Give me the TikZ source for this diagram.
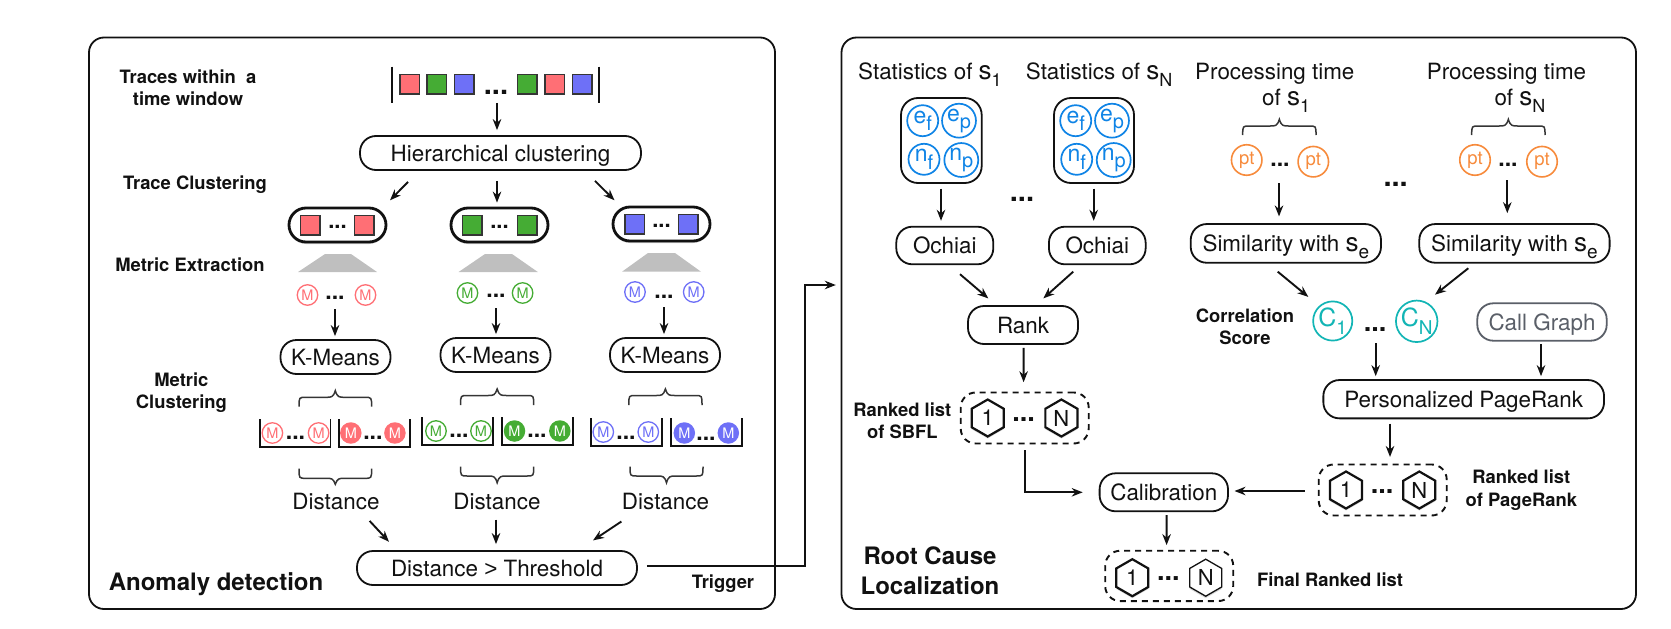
\documentclass[tikz,border=0pt]{standalone}
\usepackage{fontspec}
\setmainfont{TeX Gyre Heros}
\newfontfamily\gtfont{Liberation Sans}
\usetikzlibrary{arrows.meta,shapes.geometric,shadows}
\definecolor{cred}{HTML}{FF6F75}
\definecolor{cgreen}{HTML}{45AC34}
\definecolor{cblue}{HTML}{6E70F7}
\definecolor{corange}{HTML}{F78B3C}
\definecolor{cstat}{HTML}{0F84E6}
\definecolor{ccyan}{HTML}{12B5B5}
\definecolor{cgraph}{HTML}{5A5F68}
\definecolor{ink}{HTML}{111111}
\newcommand\fsz[1]{\fontsize{#1}{#1}\selectfont}
\newcommand\subt[2]{\raisebox{-.32em}{\fsz{#1}#2}}
\newcommand\conn[6]{\draw[arr] ([xshift=#2pt,yshift=#3pt]#1) -- ([xshift=#5pt,yshift=#6pt]#4);}
\newcommand\brc[5]{\pgfmathsetmacro\xm{(#1+#2)/2}\draw[brcline] (#1,#3) .. controls (#1,#4) and (#1,#4) .. ({#1+7},#4) -- ({\xm-9},#4) .. controls ({\xm-4},#4) and ({\xm-2},#4) .. (\xm,#5) .. controls ({\xm+2},#4) and ({\xm+4},#4) .. ({\xm+9},#4) -- ({#2-7},#4) .. controls (#2,#4) and (#2,#4) .. (#2,#3);}
\newcommand\bin[3]{\draw[binline] (#1,#3-28) -- (#1,#3) -- (#2,#3) -- (#2,#3-28);}
\tikzset{
  panel/.style={draw=ink,line width=1.8pt,rounded corners=15pt,inner sep=0pt},
  pill/.style={draw=ink,line width=1.8pt,fill=white,rounded corners=16pt,inner sep=0pt,font=\fsz{22.4},text=ink,text height=16pt,text depth=0pt},
  clus/.style={draw=ink,line width=2.8pt,fill=white,rounded corners=17pt,inner sep=0pt,minimum width=97pt,minimum height=34pt,
     drop shadow={shadow xshift=0pt,shadow yshift=-2pt,opacity=.2,fill=black}},
  sq/.style={draw=ink!85,line width=1.5pt,fill=#1,minimum size=19.5pt,inner sep=0pt},
  mo/.style={circle,draw=#1,line width=1.3pt,fill=white,text=#1,minimum size=20.5pt,inner sep=0pt,font=\fsz{14.5}},
  mf/.style={circle,fill=#1,text=white,minimum size=21.5pt,inner sep=0pt,font=\fsz{14.5}},
  dotsn/.style={anchor=south,inner sep=0pt,font=\bfseries\fsz{#1},text=ink},
  lab/.style={inner sep=0pt,minimum height=20pt,font=\fsz{22.4},text=ink},
  txt/.style={anchor=base west,inner sep=0pt,font=\fsz{22.4},text=ink},
  bold/.style={inner sep=0pt,font=\bfseries\fsz{18.4},text=ink,align=center},
  big/.style={inner sep=0pt,font=\bfseries\fsz{24},text=ink,align=center},
  arr/.style={draw=ink,line width=1.9pt,-{Stealth[length=11pt,width=8.5pt]}},
  brcline/.style={draw=ink!85,line width=1.5pt},
  binline/.style={draw=ink,line width=1.8pt},
  stat/.style={circle,draw=cstat,line width=1.7pt,fill=white,text=cstat,minimum size=31pt,inner sep=0pt,font=\fsz{23}},
  ptc/.style={circle,draw=corange,line width=1.6pt,fill=white,text=corange,minimum size=30.5pt,inner sep=0pt,font=\fsz{18.5}},
  cc/.style={circle,draw=ccyan,line width=1.7pt,fill=white,text=ccyan,minimum size=37.5pt,inner sep=0pt,font=\fsz{25}},
  dash box/.style={draw=ink,line width=1.9pt,dash pattern=on 6pt off 5pt,rounded corners=15pt,inner sep=0pt,minimum width=128pt,minimum height=51pt},
  hex/.style={regular polygon,regular polygon sides=6,shape border rotate=30,draw=ink,line width=#1,fill=white,minimum size=37pt,inner sep=0pt,font=\fsz{22},text=ink,
     drop shadow={shadow xshift=0pt,shadow yshift=-2pt,opacity=.15,fill=black}},
  trap/.style={fill=black!25,draw=none},
}
\begin{document}
\begin{tikzpicture}[x=1pt,y=-1pt]
\useasboundingbox (0,0) rectangle (1671,629);
% panels
\node[panel,minimum width=686pt,minimum height=571.5pt] (ad) at (432,323.25) {};
\node[panel,minimum width=794.5pt,minimum height=571.5pt] (rc) at (1238.75,323.25) {};
\node[big,anchor=center] (adtitle) at (216,584) {Anomaly detection};
\node[big,anchor=center] (rctitle) at (930,571) {Root Cause\\[6pt]Localization};
% left labels
\node[bold] (l1) at (188,87.5) {Traces within\ \ a\\[3.6pt]time window};
\node[bold] (l2) at (195,185) {Trace Clustering};
\node[bold] (l3) at (190,265) {Metric Extraction};
\node[bold] (l4) at (181.4,393) {Metric\\[3.6pt]Clustering};
\node[bold] (l5) at (723,584) {Trigger};
% trace window
\node[inner sep=0pt,minimum width=207pt,minimum height=36pt] (tw) at (495.5,84.7) {};
\draw[line width=1.8pt,draw=ink] (tw.north west) -- (tw.south west) (tw.north east) -- (tw.south east);
\node[sq=cred] (t1) at (409.6,84.3) {};
\node[sq=cgreen] (t2) at (436.5,84.3) {};
\node[sq=cblue] (t3) at (464,84.3) {};
\node[dotsn=29] (t4) at (496,95) {...};
\node[sq=cgreen] (t5) at (527,84.3) {};
\node[sq=cred] (t6) at (554.5,84.3) {};
\node[sq=cblue] (t7) at (582,84.3) {};
\node[pill,minimum width=281pt,minimum height=34pt] (hier) at (500.5,153) {Hierarchical clustering};
\conn{tw.south}{1.5}{0}{hier.north}{-3.5}{5}
% clusters
\node[clus] (cr) at (337.5,225) {};
\node[clus] (cg) at (499.5,225) {};
\node[clus] (cb) at (661.5,224) {};
\node[sq=cred] (cr1) at (310,225) {};
\node[sq=cred] (cr2) at (364,225) {};
\node[dotsn=22] (cr3) at (337.5,229) {...};
\node[sq=cgreen] (cg1) at (472,225) {};
\node[sq=cgreen] (cg2) at (527,225) {};
\node[dotsn=22] (cg3) at (499.5,229) {...};
\node[sq=cblue] (cb1) at (634.5,224) {};
\node[sq=cblue] (cb2) at (688,224) {};
\node[dotsn=22] (cb3) at (661.5,228) {...};
\conn{hier.south}{-92.5}{-11}{cr.north}{52.5}{6.3}
\conn{hier.south}{-3.5}{-10}{cg.north}{-2.5}{4}
\conn{hier.south}{94.5}{-10}{cb.north}{-47}{5.3}
% trapezoids
\fill[trap] (298,272) -- (325,254) -- (351,254) -- (377,272) -- cycle;
\fill[trap] (458.6,272) -- (485,254) -- (512,254) -- (537.8,272) -- cycle;
\fill[trap] (622,271.7) -- (648,253) -- (675,253) -- (701,271.7) -- cycle;
% M rows
\node[mo=cred] (mr1) at (307.5,295) {M};
\node[mo=cred] (mr2) at (365.5,295) {M};
\node[dotsn=23] (mrd) at (335,300) {...};
\node[mo=cgreen] (mg1) at (467.5,293) {M};
\node[mo=cgreen] (mg2) at (522.6,293) {M};
\node[dotsn=23] (mgd) at (496,298) {...};
\node[mo=cblue] (mb1) at (635,292) {M};
\node[mo=cblue] (mb2) at (693.7,292) {M};
\node[dotsn=23] (mbd) at (664,299) {...};
% K-means
\node[pill,minimum width=110pt,minimum height=34pt] (kr) at (335.5,357) {K-Means};
\node[pill,minimum width=110pt,minimum height=34pt] (kg) at (495.5,355) {K-Means};
\node[pill,minimum width=110pt,minimum height=34pt] (kb) at (665,355) {K-Means};
\conn{mrd.south}{0}{-9}{kr.north}{-.5}{3}
\conn{mgd.south}{0}{-10}{kg.north}{.5}{3}
\conn{mbd.south}{0}{-8}{kb.north}{-1}{3}
% top braces
\brc{299}{371.6}{406.7}{397.3}{390.7}
\brc{460.6}{533.7}{405}{395.5}{389}
\brc{628.8}{702}{405}{395.5}{389}
% bins
\bin{259.8}{330.4}{447}
\bin{338.6}{409.6}{447}
\bin{422}{493}{445}
\bin{502}{573}{445}
\bin{590.7}{661.7}{446}
\bin{670.7}{742}{446}
\node[mo=cred] (br1) at (272.4,433) {M};
\node[mo=cred] (br2) at (318.6,433) {M};
\node[dotsn=23] (br3) at (295.5,440) {...};
\node[mf=cred] (br4) at (350.8,433) {M};
\node[mf=cred] (br5) at (394.9,433) {M};
\node[dotsn=23] (br6) at (372.9,440) {...};
\node[mo=cgreen] (bg1) at (436,431) {M};
\node[mo=cgreen] (bg2) at (481,431) {M};
\node[dotsn=23] (bg3) at (459,438) {...};
\node[mf=cgreen] (bg4) at (514.5,431) {M};
\node[mf=cgreen] (bg5) at (559.8,431) {M};
\node[dotsn=23] (bg6) at (537,438) {...};
\node[mo=cblue] (bb1) at (603.3,432) {M};
\node[mo=cblue] (bb2) at (648.3,432) {M};
\node[dotsn=23] (bb3) at (626,440) {...};
\node[mf=cblue] (bb4) at (684.3,433) {M};
\node[mf=cblue] (bb5) at (728.3,433) {M};
\node[dotsn=23] (bb6) at (706,441) {...};
% bottom braces
\brc{299}{371.6}{468.7}{478.3}{484.3}
\brc{460.6}{533.7}{466.7}{476}{482.7}
\brc{630}{703}{466.7}{476}{482.7}
% distance
\node[lab] (dr) at (336,501) {Distance};
\node[lab] (dg) at (497,501.7) {Distance};
\node[lab] (db) at (665.5,501.7) {Distance};
\node[pill,minimum width=280pt,minimum height=34pt] (th) at (497,568) {Distance {\gtfont >} Threshold};
\conn{dr.south}{33.6}{-9.7}{th.north}{-108}{8.3}
\conn{dg.south}{-1}{-7.6}{th.north}{-1}{6}
\conn{db.south}{-44.1}{-9.6}{th.north}{96}{9.7}
% trigger
\draw[arr] ([xshift=9pt,yshift=2.3pt]th.east) -| ([xshift=-35.8pt,yshift=38.25pt]rc.west) -- ([xshift=-4.8pt,yshift=38.25pt]rc.west);
% statistics
\node[txt] (s1) at (858,79) {Statistics of {\fsz{26}s}\subt{18}{1}};
\node[txt] (s2) at (1025.7,79) {Statistics of {\fsz{26}s}\subt{18}{N}};
\node[draw=ink,line width=1.8pt,rounded corners=17pt,minimum width=80.7pt,minimum height=85pt,inner sep=0pt] (b1) at (941.35,140.5) {};
\node[draw=ink,line width=1.8pt,rounded corners=17pt,minimum width=80pt,minimum height=85pt,inner sep=0pt] (b2) at (1094,140.5) {};
\node[stat] (e1) at (922.7,120.7) {e\subt{20}{f}};
\node[stat] (e2) at (959,120.7) {e\subt{20}{p}};
\node[stat] (e3) at (924,159.3) {n\subt{20}{f}};
\node[stat] (e4) at (961.3,160) {n\subt{20}{p}};
\node[stat] (f1) at (1075.7,120.7) {e\subt{20}{f}};
\node[stat] (f2) at (1112,120.7) {e\subt{20}{p}};
\node[stat] (f3) at (1076.7,159.3) {n\subt{20}{f}};
\node[stat] (f4) at (1113.7,160) {n\subt{20}{p}};
\node[dotsn=29] (sd) at (1022,201.7) {...};
\node[pill,minimum width=97pt,minimum height=37.6pt] (o1) at (944.8,245.5) {Ochiai};
\node[pill,minimum width=96.7pt,minimum height=37.6pt] (o2) at (1097.3,245.5) {Ochiai};
\node[pill,minimum width=110pt,minimum height=38pt] (rk) at (1023,325) {Rank};
\conn{b1.south}{-.35}{-4.7}{o1.north}{-3.8}{5}
\conn{b2.south}{-.3}{-4.7}{o2.north}{-3.6}{5}
\conn{o1.south}{15.2}{-9}{rk.north}{-34.7}{6.7}
\conn{o2.south}{-24}{-6.4}{rk.north}{20.3}{6.7}
% SBFL list
\node[dash box] (sbfl) at (1024.7,418) {};
\node[hex=2.2pt] (h1) at (987.7,418) {1};
\node[hex=2.2pt] (h2) at (1061.4,418) {N};
\node[dotsn=27] (h3) at (1023.6,422) {...};
\node[bold] (l6) at (902.3,420.5) {Ranked list\\[3.6pt]of SBFL};
\conn{rk.south}{.6}{-3}{sbfl.north}{-1.1}{9.3}
% calibration
\node[pill,minimum width=128.4pt,minimum height=38pt] (calib) at (1163.8,492.3) {Calibration};
\draw[arr] ([yshift=-6pt]sbfl.south) |- ([xshift=-16pt]calib.west);
% final list
\node[dash box,minimum height=50.3pt] (fin) at (1169.2,575.9) {};
\node[hex=2.2pt] (g1) at (1132.3,577.7) {1};
\node[hex=1.3pt] (g2) at (1205.7,577.7) {N};
\node[dotsn=27] (g3) at (1168.3,581) {...};
\node[bold] (l7) at (1330,579.3) {Final Ranked list};
\conn{calib.south}{2.8}{-3}{fin.north}{-2.6}{4.7}
% processing time
\node[txt] (p1) at (1195,79) {Processing time};
\node[txt] (p2) at (1262,105) {of {\fsz{26}s}\subt{18}{1}};
\node[txt] (p3) at (1426.7,79) {Processing time};
\node[txt] (p4) at (1494.3,105) {of {\fsz{26}s}\subt{18}{N}};
\brc{1242.7}{1316}{135}{126}{119.3}
\brc{1471.7}{1545}{135}{126}{119.3}
\node[ptc] (q1) at (1246.7,160) {pt};
\node[ptc] (q2) at (1313.3,161.7) {pt};
\node[dotsn=23] (q3) at (1280,166.7) {...};
\node[ptc] (q4) at (1475,160) {pt};
\node[ptc] (q5) at (1542,161.7) {pt};
\node[dotsn=23] (q6) at (1508,166.7) {...};
\node[dotsn=29] (qd) at (1395.7,187) {...};
\node[pill,minimum width=190.3pt,minimum height=38.7pt] (sim1) at (1285.85,243.4) {Similarity with {\fsz{26}s}\subt{19}{e}};
\node[pill,minimum width=190.3pt,minimum height=38.7pt] (sim2) at (1514.45,243.4) {Similarity with {\fsz{26}s}\subt{19}{e}};
\conn{q3.south}{-1}{-16.6}{sim1.north}{-6.85}{6.7}
\conn{q6.south}{-.7}{-13.3}{sim2.north}{-7.15}{10}
% correlation
\node[cc] (c1) at (1332.7,321) {C\subt{19}{1}};
\node[cc] (cn) at (1416.7,321.3) {C\subt{19}{N}};
\node[dotsn=27] (cd) at (1375,332) {...};
\node[bold] (l8) at (1245,327) {Correlation\\[3.6pt]Score};
\conn{sim1.south}{-8.15}{-8}{c1.north}{-24.4}{3.7}
\conn{sim2.south}{-46.15}{-4.6}{cn.north}{18.3}{5}
\node[pill,draw=cgraph,text=cgraph,minimum width=129.4pt,minimum height=37.4pt] (call) at (1542,322) {Call Graph};
\node[pill,minimum width=280.7pt,minimum height=38.3pt] (ppr) at (1463.7,399.2) {Personalized PageRank};
\conn{cd.south}{.7}{-11}{ppr.north}{-88}{3}
\conn{call.south}{-1}{-2.7}{ppr.north}{77.3}{3}
% pagerank list
\node[dash box] (prl) at (1382.7,490) {};
\node[hex=2.2pt] (k1) at (1346,490) {1};
\node[hex=2.2pt] (k2) at (1419.3,490) {N};
\node[dotsn=27] (k3) at (1382,494) {...};
\node[bold] (l9) at (1521.3,490) {Ranked list\\[5pt]of PageRank};
\conn{ppr.south}{-73.7}{-4.4}{prl.north}{7.3}{6.6}
\conn{prl.west}{-13}{-1}{calib.east}{5.6}{1.3}
\end{tikzpicture}
\end{document}
